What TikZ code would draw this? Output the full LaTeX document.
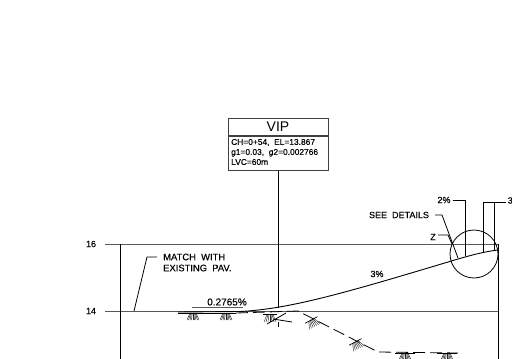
\documentclass[tikz,border=0pt]{standalone}
\usepackage{fontspec}
\setmainfont{Liberation Sans}
\newfontfamily\cadfont{Liberation Sans}[FakeBold=0.3]
\usepackage{tikz}
\usetikzlibrary{positioning, calc}
\tikzset{
    base/.style={font=\cadfont\fontsize{9}{11}\selectfont, inner sep=0pt},
    label/.style={base, anchor=center},
    small/.style={font=\cadfont\fontsize{8.4}{10}\selectfont, inner sep=0pt, align=left},
    line/.style={draw=black, line width=0.8pt},
    grid/.style={draw=black!65, line width=1pt},
    ground/.style={draw=black, line width=0.8pt, dash pattern=on 12pt off 5pt},
    hatch/.pic={
        \foreach \i in {-6,-4.5,...,6}
            \draw [black!85, line width=0.5pt] (\i*0.5,-3.5) -- (\i,3.5);
        \draw [black, line width=0.8pt] (-10,-3.5) -- (10,-3.5);
    },
    slopehatch/.pic={
        \foreach \i in {-6,-4,...,6}
            \draw [black!85, line width=0.45pt] (\i*0.5,-3.5) -- (\i,4);
        \draw [black, line width=0.7pt] (-7,-3.5) -- (7,-3.5);
    }
}

\begin{document}
\begin{tikzpicture}[x=1pt, y=-1pt]
    \useasboundingbox (0,0) rectangle (512,359);

    % frame lines
    \coordinate (L16) at (105,244);
    \coordinate (R16) at (498,244);
    \coordinate (L14) at (105,311);
    \coordinate (R14) at (498,311);
    \coordinate (LB) at (120,359);
    \coordinate (RB) at (498,359);
    \draw [grid] (L16) -- (R16);
    \draw [grid] (L14) -- (R14);
    \draw [line] (L16 -| LB) -- (LB);
    \draw [line, line width=1pt] (R16) -- (RB);
    \node [label] (T16) at (91,244) {16};
    \node [label] (T14) at (91,311) {14};

    % VIP box
    \node [draw=black!75, line width=1pt, minimum width=100pt, minimum height=17pt, inner sep=0pt, font=\fontsize{14}{15}\selectfont] (VIP) at (278,126.5) {VIP};
    \node [draw=black!75, line width=1pt, minimum width=100pt, minimum height=34pt, inner sep=0pt, below=0pt of VIP] (DATA) {};
    \node [small, anchor=west] (DATATXT) at (231,152) {CH=0+54,\ \ EL=13.867\\g1=0.03,\ \ g2=0.002766\\LVC=60m};
    \coordinate (VIPB) at (278,308);
    \draw [line] (DATA.south) -- (VIPB);

    % road profile
    \coordinate (RD0) at (178,312);
    \coordinate (RD1) at (240,311.5);
    \coordinate (RD2) at (458,259);
    \coordinate (RD3) at (498,250);
    \draw [line, line width=0.9pt] (RD0) -- (RD1) .. controls (290,309) and (345,293) .. (RD2) .. controls (472,255) and (485,251.5) .. (RD3);
    \node [label] (SL1) at (377,274) {3\%};
    \node [label, font=\cadfont\fontsize{10}{11}\selectfont] (SL0) at (227,302) {0.2765\%};
    \coordinate (SL0A) at (192,307);
    \coordinate (SL0B) at (243,307);
    \draw [grid] (SL0A) -- (SL0B);

    % existing ground
    \coordinate (G0) at (178,313);
    \coordinate (G0B) at (236,313);
    \coordinate (G1) at (298,311);
    \coordinate (G2) at (378,352);
    \coordinate (G3) at (458,353);
    \draw [line] (G0) -- (G0B);
    \draw [ground] (G0B) -- (G1) -- (G2) -- (G3);
    \pic at (193,316.5) {hatch};
    \pic at (226,316.5) {hatch};
    \pic at (270,318) {slopehatch};
    \pic [rotate=28] at (313,323) {slopehatch};
    \pic [rotate=28] at (357,345) {slopehatch};
    \pic at (405,356.5) {hatch};
    \pic at (447,356.5) {hatch};
    \coordinate (X1) at (267,324);
    \coordinate (X2) at (286,313);
    \coordinate (X3) at (273,319);
    \coordinate (X4) at (292,322);
    \draw [line] (X1) -- (X2);
    \draw [line] (X3) -- (X4);
    \coordinate (X5) at (278,322);
    \coordinate (X6) at (278,327);
    \draw [line] (X5) -- (X6);

    % details
    \node [draw=black, line width=0.8pt, circle, minimum size=48pt, inner sep=0pt] (DET) at (474,254) {};
    \node [label] (P2) at (444,200) {2\%};
    \coordinate (P2A) at (453,200);
    \coordinate (P2B) at (465,200);
    \coordinate (P2C) at (465,256);
    \draw [line] (P2A) -- (P2B) -- (P2C);
    \node [label, anchor=west] (P3) at (507.5,200.5) {3};
    \coordinate (P3A) at (483,252);
    \coordinate (P3B) at (483,202);
    \coordinate (P3C) at (506,202);
    \coordinate (P3D) at (494,202);
    \coordinate (P3E) at (494,250);
    \draw [line] (P3A) -- (P3B) -- (P3C);
    \draw [line] (P3D) -- (P3E);
    \node [label] (SEE) at (399,215) {SEE\ \ DETAILS};
    \coordinate (SEEA) at (435,215);
    \coordinate (SEEB) at (442,215);
    \coordinate (SEEC) at (458,258);
    \draw [line] (SEEA) -- (SEEB) -- (SEEC);
    \node [label] (Z) at (433,237) {Z};
    \coordinate (ZA) at (438,235);
    \coordinate (ZB) at (448,235);
    \coordinate (ZC) at (452,244);
    \draw [line] (ZA) -- (ZB) -- (ZC);

    % match note
    \node [label, anchor=west, align=left, font=\cadfont\fontsize{9.4}{11}\selectfont] (MATCH) at (163,262.5) {MATCH\ \ WITH\\EXISTING\ \ PAV.};
    \coordinate (MA) at (157,257);
    \coordinate (MB) at (147,257);
    \coordinate (MC) at (134,311);
    \draw [line] (MA) -- (MB) -- (MC);
\end{tikzpicture}
\end{document}
